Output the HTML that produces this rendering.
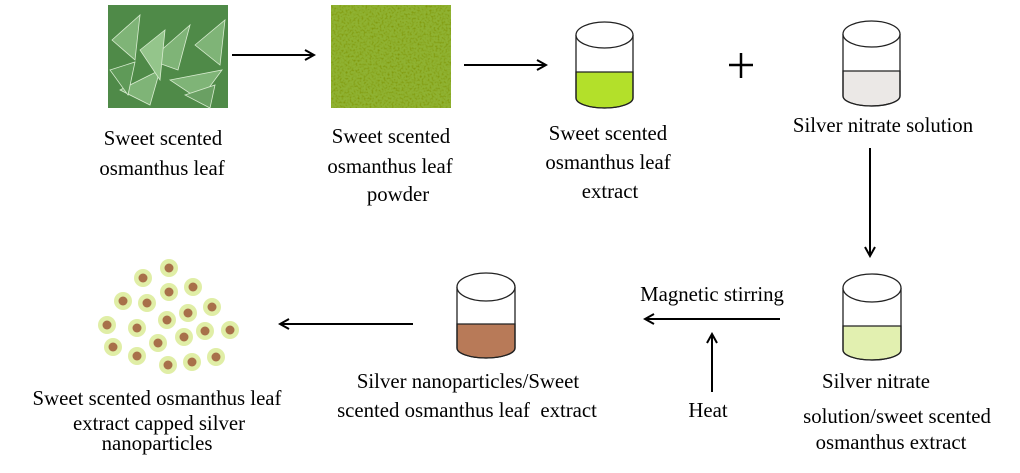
<!DOCTYPE html>
<html><head><meta charset="utf-8"><style>
body{margin:0;background:#fff;width:1020px;height:473px;overflow:hidden;position:relative;font-family:"Liberation Serif",serif;}
.t{position:absolute;font-size:20.8px;color:#000;text-align:center;white-space:nowrap;transform:translateX(-50%);line-height:1}
</style></head><body>
<svg width="1020" height="473" style="position:absolute;left:0;top:0">
<defs>
<marker id="a" markerWidth="12" markerHeight="12" refX="10" refY="6" orient="auto" markerUnits="userSpaceOnUse"><path d="M1,1 L10,6 L1,11" fill="none" stroke="#000" stroke-width="2"/></marker>
<filter id="n"><feTurbulence type="fractalNoise" baseFrequency="0.5" numOctaves="2" seed="3"/><feColorMatrix values="0 0 0 0 0.2  0 0 0 0 0.28  0 0 0 0 0  0 0 0 -2 1.1"/><feComposite in2="SourceGraphic" operator="in"/></filter>
</defs>
<rect x="108" y="5" width="120" height="103" fill="#4f8a48"/>
<g fill="#7fb477" stroke="#d8ecd0" stroke-width="0.8">
<path d="M150,60 L190,25 L178,70Z"/><path d="M120,90 L160,70 L150,105Z"/><path d="M170,80 L222,70 L200,100Z"/>
<path d="M112,40 L140,15 L135,60Z"/><path d="M195,45 L225,20 L220,65Z"/><path d="M140,50 L165,30 L160,80Z" fill="#94c58b"/>
<path d="M185,95 L215,85 L210,108Z" fill="#6aa063"/><path d="M110,70 L135,62 L128,95Z" fill="#5f9a58"/>
</g>
<rect x="331" y="5" width="120" height="103" fill="#8fb232"/>
<rect x="331" y="5" width="120" height="103" fill="#8fb232" filter="url(#n)"/>
<g stroke="#000" stroke-width="2" fill="none">
<line x1="232" y1="55" x2="314" y2="55" marker-end="url(#a)"/>
<line x1="464" y1="65" x2="546" y2="65" marker-end="url(#a)"/>
<line x1="870" y1="148" x2="870" y2="256" marker-end="url(#a)"/>
<line x1="780" y1="319" x2="645" y2="319" marker-end="url(#a)"/>
<line x1="712" y1="392" x2="712" y2="334" marker-end="url(#a)"/>
<line x1="413" y1="324" x2="280" y2="324" marker-end="url(#a)"/>
<g stroke-width="2.5"><line x1="741" y1="53" x2="741" y2="78"/><line x1="729" y1="65" x2="753" y2="65"/></g>
</g>
<g stroke="#222" stroke-width="1.3">
<path d="M576,72 L633,72 L633,98 A28.5,10 0 0 1 576,98Z" fill="#b3e02a"/>
<path d="M576,35 L576,98 A28.5,10 0 0 0 633,98 L633,35" fill="none"/>
<ellipse cx="604.5" cy="35" rx="28.5" ry="13" fill="#fff"/>
<path d="M843,71 L900,71 L900,96 A28.5,10 0 0 1 843,96Z" fill="#ebe8e6"/>
<path d="M843,34 L843,96 A28.5,10 0 0 0 900,96 L900,34" fill="none"/>
<ellipse cx="871.5" cy="34" rx="28.5" ry="13" fill="#fff"/>
<path d="M843,326 L901,326 L901,350 A29,10 0 0 1 843,350Z" fill="#e2f0b0"/>
<path d="M843,288 L843,350 A29,10 0 0 0 901,350 L901,288" fill="none"/>
<ellipse cx="872" cy="288" rx="29" ry="14" fill="#fff"/>
<path d="M457,324 L515,324 L515,348 A29,10 0 0 1 457,348Z" fill="#b87a58"/>
<path d="M457,287 L457,348 A29,10 0 0 0 515,348 L515,287" fill="none"/>
<ellipse cx="486" cy="287" rx="29" ry="14" fill="#fff"/>
</g>
<g fill="#e0eea6">
<circle cx="169" cy="268" r="9"/><circle cx="143" cy="278" r="9"/><circle cx="193" cy="287" r="9"/><circle cx="169" cy="292" r="9"/><circle cx="123" cy="301" r="9"/><circle cx="147" cy="303" r="9"/><circle cx="212" cy="307" r="9"/><circle cx="188" cy="313" r="9"/><circle cx="167" cy="320" r="9"/><circle cx="107" cy="325" r="9"/><circle cx="137" cy="328" r="9"/><circle cx="205" cy="331" r="9"/><circle cx="230" cy="330" r="9"/><circle cx="184" cy="337" r="9"/><circle cx="158" cy="343" r="9"/><circle cx="113" cy="347" r="9"/><circle cx="137" cy="356" r="9"/><circle cx="216" cy="357" r="9"/><circle cx="192" cy="362" r="9"/><circle cx="168" cy="365" r="9"/>
</g>
<g fill="#a8704a">
<circle cx="169" cy="268" r="4.5"/><circle cx="143" cy="278" r="4.5"/><circle cx="193" cy="287" r="4.5"/><circle cx="169" cy="292" r="4.5"/><circle cx="123" cy="301" r="4.5"/><circle cx="147" cy="303" r="4.5"/><circle cx="212" cy="307" r="4.5"/><circle cx="188" cy="313" r="4.5"/><circle cx="167" cy="320" r="4.5"/><circle cx="107" cy="325" r="4.5"/><circle cx="137" cy="328" r="4.5"/><circle cx="205" cy="331" r="4.5"/><circle cx="230" cy="330" r="4.5"/><circle cx="184" cy="337" r="4.5"/><circle cx="158" cy="343" r="4.5"/><circle cx="113" cy="347" r="4.5"/><circle cx="137" cy="356" r="4.5"/><circle cx="216" cy="357" r="4.5"/><circle cx="192" cy="362" r="4.5"/><circle cx="168" cy="365" r="4.5"/>
</g>
</svg>
<div class="t" style="left:163px;top:129px">Sweet scented</div>
<div class="t" style="left:162px;top:159px">osmanthus leaf</div>
<div class="t" style="left:391px;top:127px">Sweet scented</div>
<div class="t" style="left:390px;top:157px">osmanthus leaf</div>
<div class="t" style="left:398px;top:185px">powder</div>
<div class="t" style="left:608px;top:124px">Sweet scented</div>
<div class="t" style="left:608px;top:153px">osmanthus leaf</div>
<div class="t" style="left:610px;top:182px">extract</div>
<div class="t" style="left:883px;top:116px">Silver nitrate solution</div>
<div class="t" style="left:712px;top:285px">Magnetic stirring</div>
<div class="t" style="left:708px;top:401px">Heat</div>
<div class="t" style="left:876px;top:372px">Silver nitrate</div>
<div class="t" style="left:897px;top:407px">solution/sweet scented</div>
<div class="t" style="left:891px;top:433px">osmanthus extract</div>
<div class="t" style="left:468px;top:372px">Silver nanoparticles/Sweet</div>
<div class="t" style="left:467px;top:401px">scented osmanthus leaf&nbsp; extract</div>
<div class="t" style="left:157px;top:389px">Sweet scented osmanthus leaf</div>
<div class="t" style="left:159px;top:414px">extract capped silver</div>
<div class="t" style="left:157px;top:434px">nanoparticles</div>
</body></html>
